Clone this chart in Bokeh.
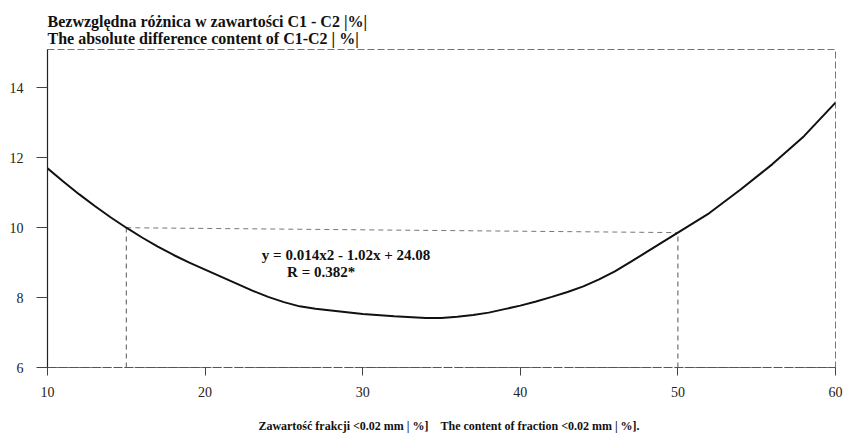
from bokeh.plotting import figure
from bokeh.models import Range1d, Title, FixedTicker, ColumnDataSource
from bokeh.core.properties import value
from bokeh.embed import file_html
from bokeh.resources import INLINE

# Curve
curve_x = [10, 11, 12, 13, 14, 15, 16, 17, 18, 19, 20, 21, 22, 23, 24, 25, 26, 27, 28,
           30, 32, 34, 35, 36, 37, 38, 39, 40, 41, 42, 43, 44, 45, 46, 47, 48, 49, 50,
           52, 54, 56, 58, 60]
curve_y = [11.70, 11.32, 10.96, 10.62, 10.30, 10.00, 9.72, 9.46, 9.22, 9.00, 8.80, 8.60,
           8.40, 8.20, 8.02, 7.87, 7.75, 7.68, 7.63, 7.53, 7.47, 7.42, 7.42, 7.45, 7.50,
           7.57, 7.67, 7.77, 7.89, 8.02, 8.16, 8.32, 8.52, 8.75, 9.02, 9.30, 9.58, 9.86,
           10.42, 11.10, 11.82, 12.62, 13.58]

# Reference (dashed) lines
ref_x = [15, 50]
ref_y = [10.0, 9.86]
y_min = 6

x_ticks = [10, 20, 30, 40, 50, 60]
y_ticks = [6, 8, 10, 12, 14]

title_pl = "Bezwzględna różnica w zawartości C1 - C2 |%|"
title_en = "The absolute difference content of C1-C2 | %|"
x_title_pl = "Zawartość frakcji <0.02 mm | %]"
x_title_en = "The content of fraction <0.02 mm | %]."
eq_text = ["y = 0.014x2 - 1.02x + 24.08", "R = 0.382*"]
eq_x = [23.6, 25.2]
eq_y = [9.22, 8.72]

FONT = "Liberation Serif"
NB = "\u00a0"

p = figure(width=845, height=444, output_backend="svg", toolbar_location=None,
           x_range=Range1d(10, 60), y_range=Range1d(6, 15.1),
           min_border_left=47, min_border_right=10, min_border_top=49, min_border_bottom=77)

p.add_layout(Title(text=" " + title_pl + "\n" + title_en, align="left", offset=0,
                   text_font=FONT, text_font_size="16px", text_font_style="bold",
                   text_line_height=1.05, standoff=0, vertical_align="top",
                   text_color="#111"), "above")

p.xgrid.visible = False
p.ygrid.visible = False
p.outline_line_color = "#777777"
p.outline_line_dash = "7 3"
p.outline_line_width = 1

# axes
p.xaxis.ticker = FixedTicker(ticks=x_ticks)
p.yaxis.ticker = FixedTicker(ticks=y_ticks)
for ax in (p.xaxis, p.yaxis):
    ax.major_label_text_font = FONT
    ax.major_label_text_font_size = "14px"
    ax.major_label_text_color = "#222"
    ax.minor_tick_line_color = None
    ax.major_tick_in = 0
    ax.major_tick_line_color = "#444"
p.yaxis.major_tick_out = 11
p.yaxis.major_label_standoff = 13
p.yaxis.axis_line_color = "#222"
p.yaxis.axis_line_width = 1.2
p.xaxis.major_tick_out = 8
p.xaxis.major_label_standoff = 11
p.xaxis.axis_line_color = "#555"
p.xaxis.axis_line_dash = "9 2"
p.xaxis.axis_label = NB * 5 + x_title_pl + NB * 4 + x_title_en
p.xaxis.axis_label_text_font = FONT
p.xaxis.axis_label_text_font_size = "12px"
p.xaxis.axis_label_text_font_style = "bold"
p.xaxis.axis_label_text_color = "#111"
p.xaxis.axis_label_standoff = 19

# dashed reference lines
p.segment(x0=[ref_x[0]], y0=[ref_y[0]], x1=[ref_x[1]], y1=[ref_y[1]],
          line_color="#777777", line_dash="5 4", line_width=1)
p.segment(x0=ref_x, y0=[y_min, y_min], x1=ref_x, y1=ref_y,
          line_color="#555555", line_dash="5 4", line_width=1)

# curve
p.line(curve_x, curve_y, line_color="#111111", line_width=2)

# equation
src = ColumnDataSource(dict(x=eq_x, y=eq_y, t=eq_text))
p.text(x="x", y="y", text="t", source=src, text_font=value(FONT),
       text_font_size="15px", text_font_style="bold", text_color="#111",
       text_baseline="middle")

open("out.html", "w").write(file_html(p, INLINE))
